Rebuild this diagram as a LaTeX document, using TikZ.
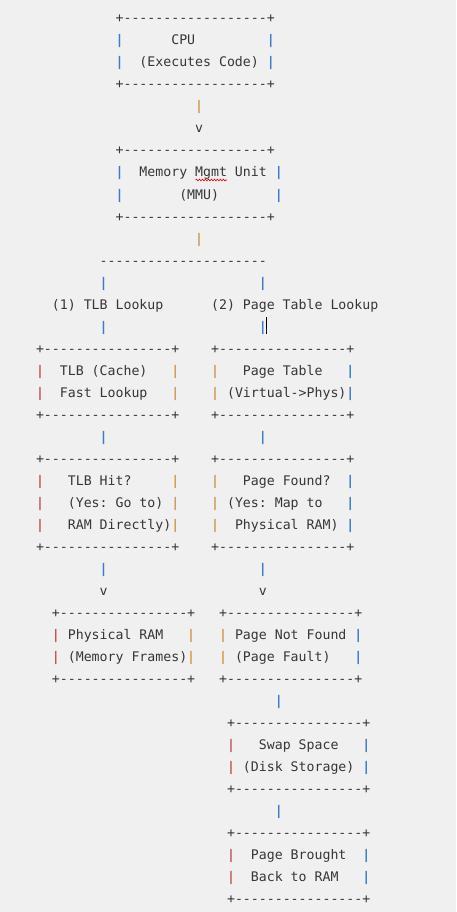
\documentclass[tikz,border=0pt]{standalone}
\usepackage{fontspec}
\setmonofont{DejaVu Sans Mono}
\usetikzlibrary{decorations.pathmorphing}
\definecolor{bg}{HTML}{F0F0F0}
\definecolor{txt}{HTML}{363636}
\definecolor{bb}{HTML}{3C7CC8}
\definecolor{bo}{HTML}{CF9A55}
\definecolor{br}{HTML}{C05A55}
\frenchspacing
\tikzset{
  t/.style={anchor=base west, inner sep=0pt, outer sep=0pt, text=txt,
    font=\ttfamily\fontsize{13.22}{15}\selectfont},
  bar/.style={t, font=\ttfamily\bfseries\fontsize{13.22}{15}\selectfont},
}
\newcommand\T[4]{\node[t] (#1) at ({36+7.96*#2},{23+22*(#3-1)}) {#4};}
\newcommand\B[4]{\node[bar,text=#4] (#1) at ({36+7.96*#2},{23+22*(#3-1)}) {|};}
\begin{document}
\begin{tikzpicture}[x=1pt,y=-1pt]
\fill[bg] (0,0) rectangle (456,912);
\useasboundingbox (0,0) rectangle (456,912);
% CPU
\T{cpuT}{10}{1}{+------------------+}
\B{cpuL1}{10}{2}{bb}\T{cpu1}{17}{2}{CPU}\B{cpuR1}{29}{2}{bb}
\B{cpuL2}{10}{3}{bb}\T{cpu2}{13}{3}{(Executes Code)}\B{cpuR2}{29}{3}{bb}
\T{cpuB}{10}{4}{+------------------+}
\B{a1}{20}{5}{bo}
\T{a1v}{20}{6}{v}
% MMU
\T{mmuT}{10}{7}{+------------------+}
\B{mmuL1}{10}{8}{bb}\T{mmu1}{13}{8}{Memory Mgmt Unit}\B{mmuR1}{30}{8}{bb}
\B{mmuL2}{10}{9}{bb}\T{mmu2}{18}{9}{(MMU)}\B{mmuR2}{30}{9}{bb}
\T{mmuB}{10}{10}{+------------------+}
\B{a2}{20}{11}{bo}
\T{split}{8}{12}{---------------------}
\B{sL}{8}{13}{bb}\B{sR}{28}{13}{bb}
\T{lab1}{2}{14}{(1) TLB Lookup}
\T{lab2}{22}{14}{(2) Page Table Lookup}
\B{sL2}{8}{15}{bb}\B{sR2}{28}{15}{bb}
\draw[black, line width=0.9pt] (266,317) -- (266,334);
% TLB / Page Table
\T{tlbT}{0}{16}{+----------------+}\T{ptT}{22}{16}{+----------------+}
\B{tlbL1}{0}{17}{br}\T{tlb1}{3}{17}{TLB (Cache)}\B{tlbR1}{17}{17}{bo}
\B{ptL1}{22}{17}{bo}\T{pt1}{26}{17}{Page Table}\B{ptR1}{39}{17}{bb}
\B{tlbL2}{0}{18}{br}\T{tlb2}{3}{18}{Fast Lookup}\B{tlbR2}{17}{18}{bo}
\B{ptL2}{22}{18}{bo}\T{pt2}{24}{18}{(Virtual->Phys)}\B{ptR2}{39}{18}{bb}
\T{tlbB}{0}{19}{+----------------+}\T{ptB}{22}{19}{+----------------+}
\B{b1}{8}{20}{bb}\B{b2}{28}{20}{bb}
% Hit / Found
\T{hitT}{0}{21}{+----------------+}\T{fndT}{22}{21}{+----------------+}
\B{hitL1}{0}{22}{br}\T{hit1}{4}{22}{TLB Hit?}\B{hitR1}{17}{22}{bo}
\B{fndL1}{22}{22}{bo}\T{fnd1}{26}{22}{Page Found?}\B{fndR1}{39}{22}{bb}
\B{hitL2}{0}{23}{br}\T{hit2}{4}{23}{(Yes: Go to)}\B{hitR2}{17}{23}{bo}
\B{fndL2}{22}{23}{bo}\T{fnd2}{24}{23}{(Yes: Map to}\B{fndR2}{39}{23}{bb}
\B{hitL3}{0}{24}{br}\T{hit3}{4}{24}{RAM Directly)}\B{hitR3}{17}{24}{bo}
\B{fndL3}{22}{24}{bo}\T{fnd3}{25}{24}{Physical RAM)}\B{fndR3}{39}{24}{bb}
\T{hitB}{0}{25}{+----------------+}\T{fndB}{22}{25}{+----------------+}
\B{c1}{8}{26}{bb}\B{c2}{28}{26}{bb}
\T{c1v}{8}{27}{v}\T{c2v}{28}{27}{v}
% RAM / Not Found
\T{ramT}{2}{28}{+----------------+}\T{nfT}{23}{28}{+----------------+}
\B{ramL1}{2}{29}{br}\T{ram1}{4}{29}{Physical RAM}\B{ramR1}{19}{29}{bo}
\B{nfL1}{23}{29}{bo}\T{nf1}{25}{29}{Page Not Found}\B{nfR1}{40}{29}{bb}
\B{ramL2}{2}{30}{br}\T{ram2}{4}{30}{(Memory Frames)}\B{ramR2}{19}{30}{bo}
\B{nfL2}{23}{30}{bo}\T{nf2}{25}{30}{(Page Fault)}\B{nfR2}{40}{30}{bb}
\T{ramB}{2}{31}{+----------------+}\T{nfB}{23}{31}{+----------------+}
\B{d1}{30}{32}{bb}
% Swap
\T{swT}{24}{33}{+----------------+}
\B{swL1}{24}{34}{br}\T{sw1}{28}{34}{Swap Space}\B{swR1}{41}{34}{bb}
\B{swL2}{24}{35}{br}\T{sw2}{26}{35}{(Disk Storage)}\B{swR2}{41}{35}{bb}
\T{swB}{24}{36}{+----------------+}
\B{e1}{30}{37}{bb}
% Brought back
\T{bkT}{24}{38}{+----------------+}
\B{bkL1}{24}{39}{br}\T{bk1}{27}{39}{Page Brought}\B{bkR1}{41}{39}{bb}
\B{bkL2}{24}{40}{br}\T{bk2}{27}{40}{Back to RAM}\B{bkR2}{41}{40}{bb}
\T{bkB}{24}{41}{+----------------+}
% spell-check squiggle
\draw[red!85!black, line width=0.6pt, decorate, decoration={snake, amplitude=0.9pt, segment length=3pt}] (195.5,180) -- (227,180);
\end{tikzpicture}
\end{document}
